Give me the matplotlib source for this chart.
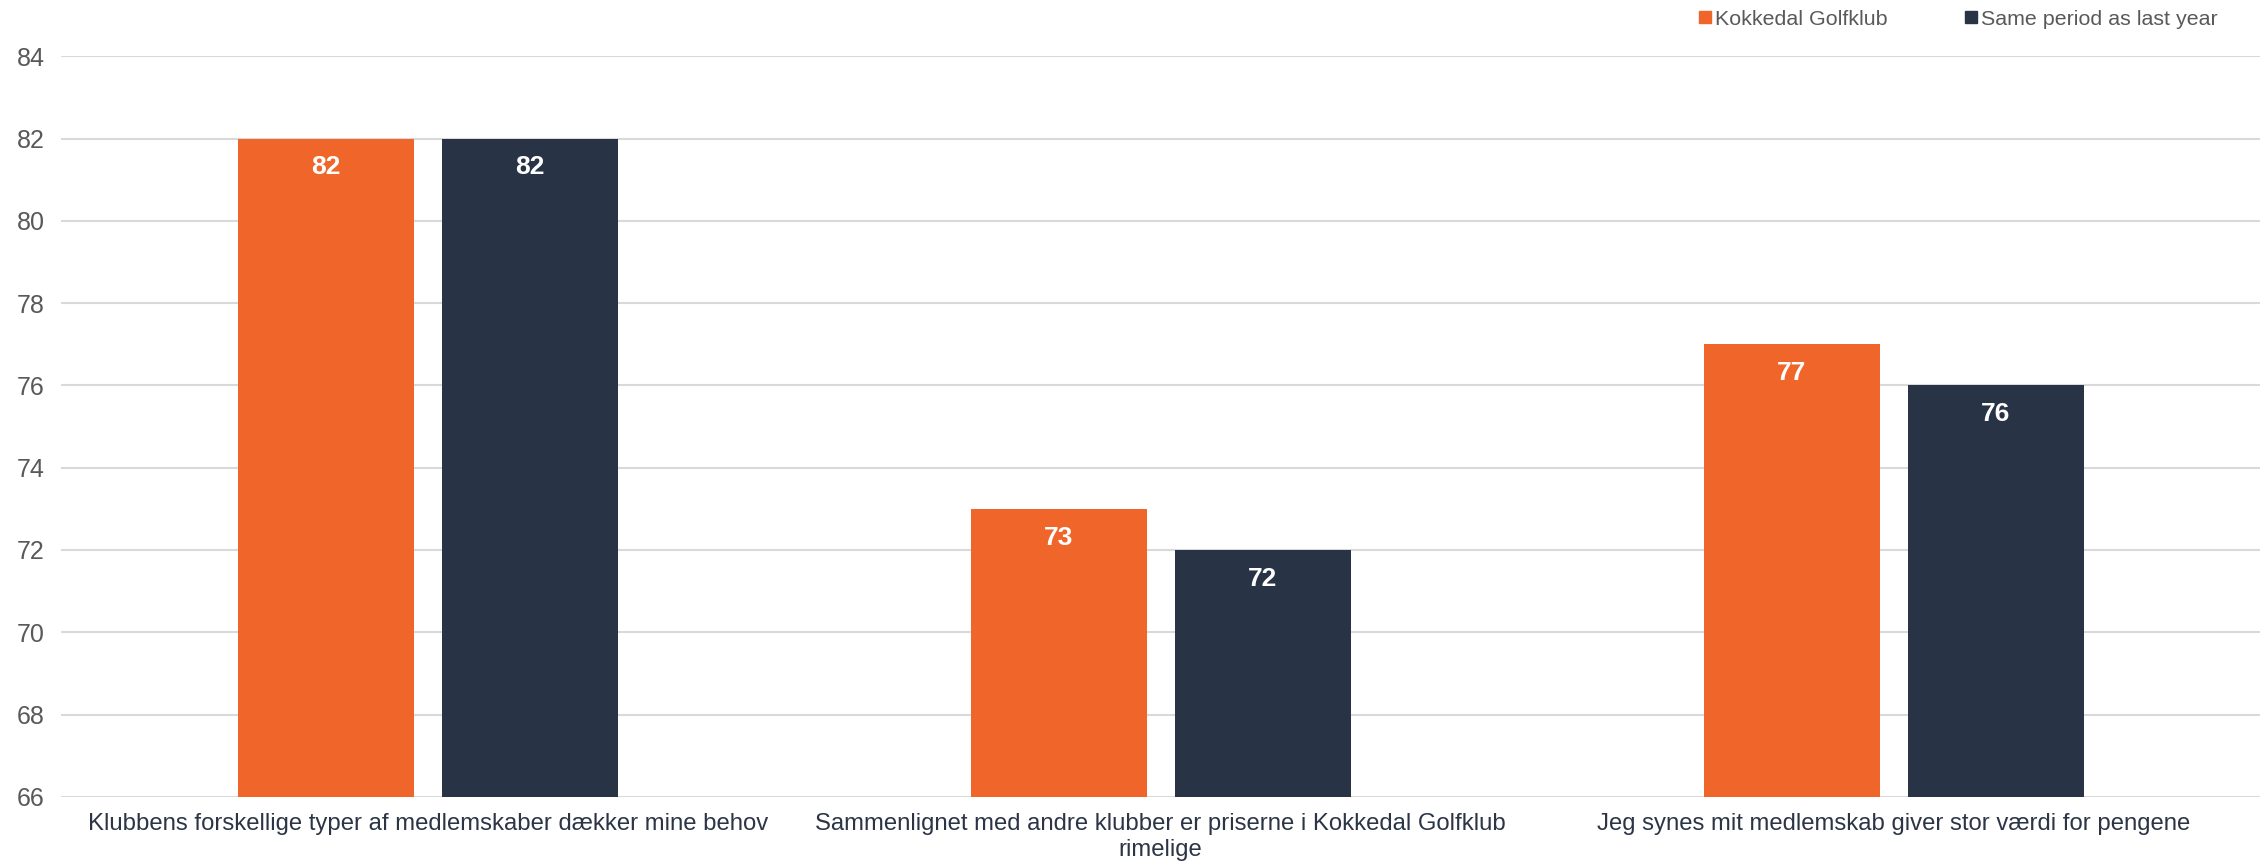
import matplotlib.pyplot as plt
import numpy as np
from matplotlib.lines import Line2D

plt.rcParams['font.family'] = ['Liberation Sans', 'DejaVu Sans']

categories = [
    "Klubbens forskellige typer af medlemskaber dækker mine behov",
    "Sammenlignet med andre klubber er priserne i Kokkedal Golfklub\nrimelige",
    "Jeg synes mit medlemskab giver stor værdi for pengene",
]
series_names = ["Kokkedal Golfklub", "Same period as last year"]
kokkedal = [82, 73, 77]
last_year = [82, 72, 76]
yticks = [66, 68, 70, 72, 74, 76, 78, 80, 82, 84]

orange = "#F06529"
navy = "#283445"

fig = plt.figure(figsize=(22.67, 8.67), dpi=100)
ax = fig.add_axes([0.027, 0.081, 0.970, 0.854])

x = np.arange(len(categories))
width = 0.24
off = 0.139
bars1 = ax.bar(x - off, kokkedal, width=width, color=orange, zorder=3)
bars2 = ax.bar(x + off, last_year, width=width, color=navy, zorder=3)

#labels inside the top of each bar
for bars, vals in [(bars1, kokkedal), (bars2, last_year)]:
    for b, v in zip(bars, vals):
        ax.text(b.get_x() + b.get_width() / 2, v - 0.7, str(v),
                ha="center", va="center", color="white",
                fontsize=19, fontweight="bold", zorder=4)

ax.set_xlim(-0.5, 2.5)
ax.set_ylim(66, 84)
ax.set_yticks(yticks)
ax.set_xticks(x)
ax.set_xticklabels(categories, fontsize=17.2, color="#2b3545")
ax.tick_params(axis="y", length=0, pad=12, labelsize=18, labelcolor="#595959")
ax.tick_params(axis="x", length=0, pad=12)
ax.grid(axis="y", color="#d9d9d9", linewidth=1.5, zorder=0)
for s in ax.spines.values():
    s.set_visible(False)

handles = [Line2D([], [], marker="s", linestyle="none", markersize=9, color=orange),
           Line2D([], [], marker="s", linestyle="none", markersize=9, color=navy)]
fig.legend(handles, series_names, loc="center right", bbox_to_anchor=(0.978, 0.978),
           ncol=2, frameon=False, fontsize=15.4, labelcolor="#595959",
           handlelength=0.6, handletextpad=0.15, columnspacing=3.6,
           borderpad=0, borderaxespad=0)

plt.savefig("out.png", dpi=100)
